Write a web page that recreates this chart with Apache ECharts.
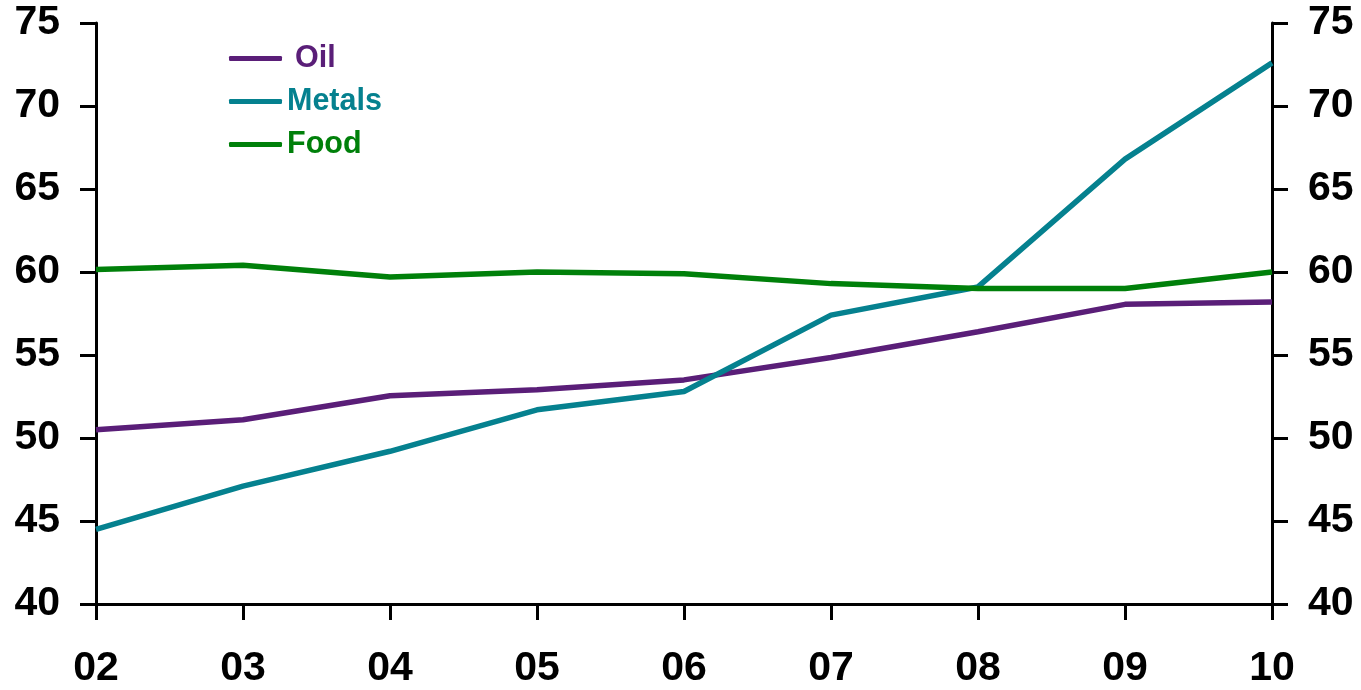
<!DOCTYPE html>
<html><head><meta charset="utf-8">
<script src="https://cdn.jsdelivr.net/npm/echarts@6/dist/echarts.min.js"></script>
<style>html,body{margin:0;padding:0;background:#fff}#c{width:1361px;height:690px}</style>
</head><body><div id="c"></div>
<script>
var categories = ['02','03','04','05','06','07','08','09','10'];
var oil    = [50.5, 51.1, 52.55, 52.9, 53.5, 54.85, 56.4, 58.05, 58.2];
var metals = [44.5, 47.1, 49.2, 51.7, 52.8, 57.4, 59.1, 66.8, 72.6];
var food   = [60.15, 60.4, 59.7, 60.0, 59.9, 59.3, 59.0, 59.0, 60.0];
var yTicks = {min: 40, max: 75, interval: 5};

var colors = {oil:'#5A1E78', metals:'#05818F', food:'#00800A'};
var font = 'Liberation Sans, Arial, sans-serif';
var chart = echarts.init(document.getElementById('c'));
function yAxis(pos){
  return {
    type:'value', position:pos, min:yTicks.min, max:yTicks.max, interval:yTicks.interval,
    splitLine:{show:false},
    axisLine:{show:true, lineStyle:{color:'#000', width:3}},
    axisTick:{show:true, length:16, lineStyle:{color:'#000', width:3}},
    axisLabel:{color:'#000', fontSize:41, fontWeight:'bold', fontFamily:font, margin:36, padding:[6,0,0,0]}
  };
}
function line(name, data, color){
  return {name:name, type:'line', data:data, symbol:'none', smooth:false,
    lineStyle:{color:color, width:5.5}, itemStyle:{color:color}};
}
chart.setOption({
  animation:false,
  grid:{left:96, right:89, top:23, bottom:86},
  legend:{
    orient:'vertical', left:224, top:38, itemWidth:53, itemHeight:5, itemGap:12,
    icon:'roundRect',
    data:[
      {name:'Oil', textStyle:{color:colors.oil, padding:[0,0,0,8]}},
      {name:'Metals', textStyle:{color:colors.metals}},
      {name:'Food', textStyle:{color:colors.food}}
    ],
    textStyle:{fontSize:30.5, fontWeight:'bold', fontFamily:font}
  },
  xAxis:{
    type:'category', data:categories, boundaryGap:false,
    axisLine:{lineStyle:{color:'#000', width:3}},
    axisTick:{show:true, length:16, alignWithLabel:true, lineStyle:{color:'#000', width:3}},
    axisLabel:{color:'#000', fontSize:41, fontWeight:'bold', fontFamily:font, margin:44}
  },
  yAxis:[yAxis('left'), yAxis('right')],
  series:[
    line('Oil', oil, colors.oil),
    line('Metals', metals, colors.metals),
    line('Food', food, colors.food)
  ]
});
</script></body></html>
